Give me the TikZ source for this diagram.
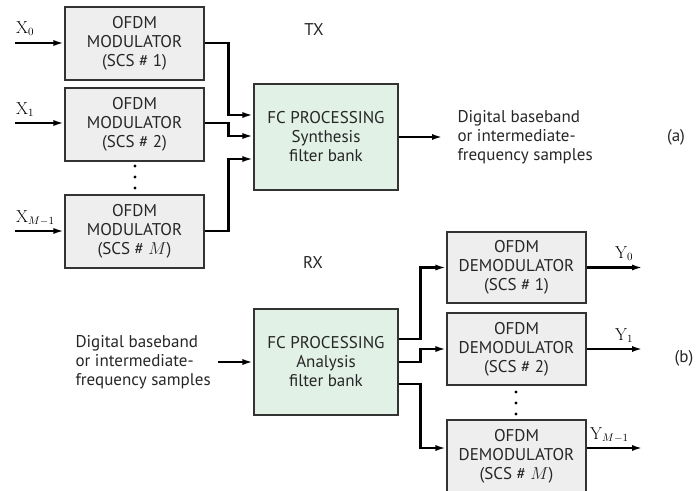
\documentclass[tikz,border=0pt]{standalone}
\usepackage[no-math]{fontspec}
\setmainfont{PT Sans}
\usetikzlibrary{arrows.meta,calc}
\definecolor{boxgray}{HTML}{EEEEEE}
\definecolor{boxgreen}{HTML}{E1F1E6}
\definecolor{edge}{HTML}{333333}
\begin{document}
\begin{tikzpicture}[x=1pt,y=-1pt,
  txt/.style={font=\fontsize{17}{19}\selectfont, text=black!85},
  ofdm/.style={txt, draw=edge, line width=1.1pt, fill=boxgray, minimum width=139pt, minimum height=73pt, align=center, inner sep=0pt},
  fc/.style={txt, draw=edge, line width=1.1pt, fill=boxgreen, minimum width=144pt, minimum height=106pt, align=center, inner sep=0pt},
  arr/.style={line width=2.2pt, -{Latex[length=11pt,width=6pt]}},
  lab/.style={font=\fontsize{16}{19}\selectfont, inner sep=0pt},
  dot/.style={circle, fill=black, inner sep=0pt, minimum size=3.4pt}
]
\useasboundingbox (0,0) rectangle (700,490);

% TX
\node[ofdm] (m1) at (134.5,43.5) {OFDM\\MODULATOR\\(SCS \# 1)};
\node[ofdm] (m2) at (134.5,124.5) {OFDM\\MODULATOR\\(SCS \# 2)};
\node[ofdm] (mM) at (134.5,231.5) {OFDM\\MODULATOR\\(SCS \# $M$)};
\node[fc] (fcT) at (326,137) {FC PROCESSING\\Synthesis\\filter bank};

\coordinate (x0s) at (15,43);
\coordinate (x1s) at (15,123);
\coordinate (xMs) at (15,231);
\draw[arr] (x0s) -- (x0s -| m1.west);
\draw[arr] (x1s) -- (x1s -| m2.west);
\draw[arr] (xMs) -- (xMs -| mM.west);
\node[lab, anchor=base west] (lx0) at (16,33) {$\mathrm{X}_0$};
\node[lab, anchor=base west] (lx1) at (16,114) {$\mathrm{X}_1$};
\node[lab, anchor=base west] (lxM) at (16,222) {$\mathrm{X}_{M-1}$};

\draw[arr] ([yshift=0.5pt]m1.east) -- ++(24,0) |- ([yshift=22pt]fcT.west);
\draw[arr] ([yshift=1.5pt]m2.east) -- ++(24,0) |- ([yshift=1pt]fcT.west);
\draw[arr] ([yshift=0.5pt]mM.east) -- ++(24,0) |- ([yshift=-22pt]fcT.west);

\node[dot] (d1) at (135,166) {};
\node[dot] (d2) at (135,177) {};
\node[dot] (d3) at (135,188) {};

\coordinate (outT) at (443,137);
\draw[arr] (fcT.east) -- (outT);
\node[txt, align=left, anchor=west] (dbT) at (454,137) {Digital baseband\\or intermediate-\\frequency samples};
\node[txt] (tx) at (314,30) {TX};
\node[txt] (la) at (676,137) {(a)};

% RX
\node[fc] (fcR) at (326,362) {FC PROCESSING\\Analysis\\filter bank};
\node[txt, align=left, anchor=west] (dbR) at (72,362) {Digital baseband\\or intermediate-\\frequency samples};
\coordinate (inR) at (218,362);
\draw[arr] (inR) -- (fcR.west);
\node[txt] (rx) at (313,262) {RX};

\node[ofdm, minimum height=71pt] (r1) at (516.5,267.5) {OFDM\\DEMODULATOR\\(SCS \# 1)};
\node[ofdm, minimum height=72pt] (r2) at (516.5,349) {OFDM\\DEMODULATOR\\(SCS \# 2)};
\node[ofdm, minimum height=73pt] (rM) at (516.5,456.5) {OFDM\\DEMODULATOR\\(SCS \# $M$)};

\draw[arr] ([yshift=23pt]fcR.east) -- ++(22,0) |- (r1.west);
\draw[arr] (fcR.east) -- ++(22,0) |- (r2.west);
\draw[arr] ([yshift=-22pt]fcR.east) -- ++(22,0) |- ([yshift=8.5pt]rM.west);

\node[dot] (e1) at (516,392) {};
\node[dot] (e2) at (516,403) {};
\node[dot] (e3) at (516,414) {};

\coordinate (y0e) at (643,267.5);
\coordinate (y1e) at (643,349);
\coordinate (yMe) at (643,448);
\draw[arr] (r1.east) -- (y0e);
\draw[arr] (r2.east) -- (y1e);
\draw[arr] ([yshift=8.5pt]rM.east) -- (yMe);
\node[lab, anchor=base west] (ly0) at (615,258) {$\mathrm{Y}_0$};
\node[lab, anchor=base west] (ly1) at (615,340) {$\mathrm{Y}_1$};
\node[lab, anchor=base west] (lyM) at (590,439) {$\mathrm{Y}_{M-1}$};
\node[txt] (lb) at (684,358) {(b)};
\end{tikzpicture}
\end{document}
